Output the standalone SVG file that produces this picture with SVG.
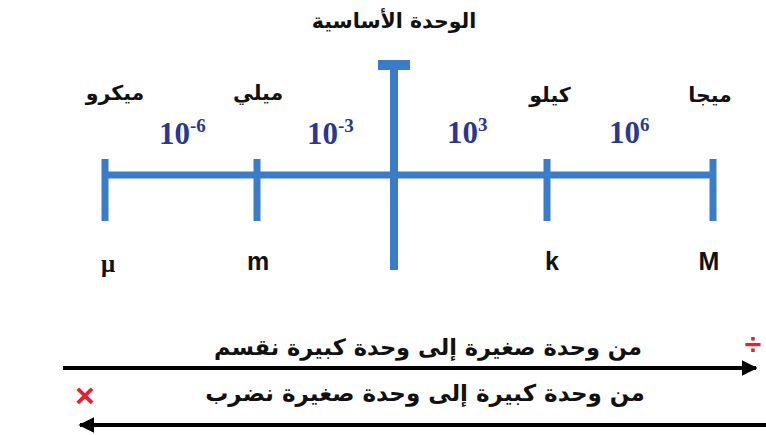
<svg xmlns="http://www.w3.org/2000/svg" width="766" height="435" viewBox="0 0 766 435">
<style>
.bl{stroke:#3b7cc8;stroke-width:7;fill:none}
.ar{font-family:"DejaVu Sans",sans-serif;font-weight:bold;fill:#111;text-anchor:middle}
.num{font-family:"Liberation Serif",serif;font-weight:bold;fill:#2b3592;font-size:31px}
.sup{font-size:19px}
.sym{font-family:"Liberation Sans",sans-serif;font-weight:bold;fill:#111;font-size:25px;text-anchor:middle}
.red{font-family:"Liberation Sans",sans-serif;font-weight:bold;fill:#e0242c;text-anchor:middle}
.arw{stroke:#000;stroke-width:4;fill:none}
</style>
<defs>
<marker id="ah" viewBox="0 0 10 10" refX="9" refY="5" markerWidth="4" markerHeight="4" orient="auto-start-reverse" markerUnits="strokeWidth">
<path d="M0,0 L10,5 L0,10 Z" fill="#000"/>
</marker>
</defs>
<rect width="766" height="435" fill="#fff"/>
<g id="connectors">
<line class="bl" x1="105" y1="175" x2="713" y2="175"/>
<line class="arw" x1="63" y1="368" x2="756" y2="368" marker-end="url(#ah)"/>
<line class="arw" x1="766" y1="425" x2="80" y2="425" marker-end="url(#ah)"/>
</g>
<g id="base">
<line class="bl" x1="394" y1="62" x2="394" y2="270" style="stroke-width:8"/>
<rect x="378" y="60" width="32" height="10" fill="#3b7cc8"/>
<text class="ar" x="394" y="28" font-size="20.5">الوحدة الأساسية</text>
</g>
<g id="micro">
<line class="bl" x1="105" y1="159" x2="105" y2="221"/>
<text class="ar" x="115" y="100" font-size="20.5">ميكرو</text>
<text class="sym" x="108" y="272" style="font-family:'Liberation Serif',serif">μ</text>
</g>
<g id="milli">
<line class="bl" x1="257" y1="159" x2="257" y2="221"/>
<text class="ar" x="258" y="100" font-size="20.5">ميلي</text>
<text class="sym" x="258" y="270">m</text>
</g>
<g id="kilo">
<line class="bl" x1="547" y1="159" x2="547" y2="221"/>
<text class="ar" x="550" y="102" font-size="20.5">كيلو</text>
<text class="sym" x="552" y="270">k</text>
</g>
<g id="mega">
<line class="bl" x1="713" y1="159" x2="713" y2="221"/>
<text class="ar" x="710" y="102" font-size="20.5">ميجا</text>
<text class="sym" x="709" y="270">M</text>
</g>
<g id="factors">
<text class="num" x="159" y="144">10<tspan class="sup" dy="-12">-6</tspan></text>
<text class="num" x="307" y="144">10<tspan class="sup" dy="-12">-3</tspan></text>
<text class="num" x="447" y="143">10<tspan class="sup" dy="-12">3</tspan></text>
<text class="num" x="609" y="143">10<tspan class="sup" dy="-12">6</tspan></text>
</g>
<g id="rules">
<text class="ar" x="428" y="355" font-size="22.5">من وحدة صغيرة إلى وحدة كبيرة نقسم</text>
<text class="red" x="753" y="354" font-size="30">÷</text>
<text class="ar" x="425" y="401" font-size="23">من وحدة كبيرة إلى وحدة صغيرة نضرب</text>
<text class="red" x="85" y="407" font-size="34">×</text>
</g>
</svg>
